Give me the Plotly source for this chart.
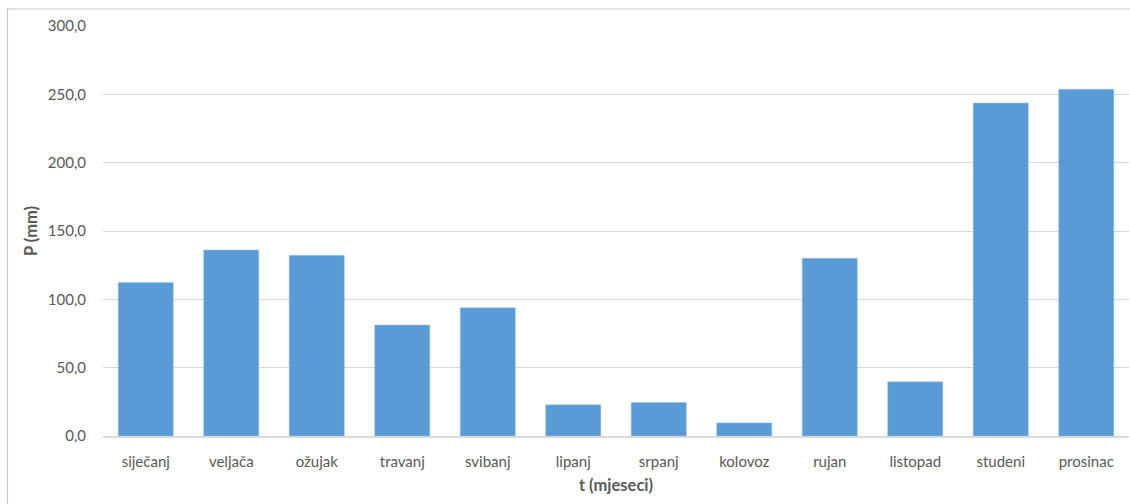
import plotly.graph_objects as go

months = ["siječanj", "veljača", "ožujak", "travanj", "svibanj", "lipanj",
          "srpanj", "kolovoz", "rujan", "listopad", "studeni", "prosinac"]
precip = [112.4, 136.1, 132.2, 81.2, 93.8, 22.8, 24.5, 9.6, 130.1, 39.7, 243.6, 253.7]
y_ticks = [0, 50, 100, 150, 200, 250, 300]

W, H = 1130, 504
ml, mr, mt, mb = 103, 1, 26, 68
pw, ph = W - ml - mr, H - mt - mb

font_family = "Lato, 'Open Sans', sans-serif"
txt = "#595959"

fig = go.Figure(go.Bar(
    x=months, y=precip,
    marker=dict(color="#5B9BD5", line=dict(color="#9DC3E6", width=0.5)),
))

fig.update_layout(
    width=W, height=H,
    margin=dict(l=ml, r=mr, t=mt, b=mb),
    paper_bgcolor="white", plot_bgcolor="white",
    separators=",.",
    bargap=0.355,
    showlegend=False,
    font=dict(family=font_family, size=15, color=txt),
    xaxis=dict(
        showgrid=False, showline=True, linecolor="#d9d9d9", linewidth=1.5,
        ticks="", ticklabelstandoff=11,
        tickfont=dict(size=15, color=txt),
        title=dict(text="<b>t (mjeseci)</b>", standoff=11, font=dict(size=16.5, color=txt)),
    ),
    yaxis=dict(
        range=[0, 300], tickvals=y_ticks, tickformat=".1f",
        showgrid=True, gridcolor="#d9d9d9", gridwidth=1,
        zeroline=False, showline=False, ticks="", ticklabelstandoff=16,
        tickfont=dict(size=15, color=txt),
        title=dict(text="<b>P (mm)</b>", standoff=6, font=dict(size=16.5, color=txt)),
    ),
)

# outer chart border (partially visible, top-left)
fig.add_shape(type="rect", xref="paper", yref="paper",
              x0=(7.5 - ml) / pw, x1=(W + 20 - ml) / pw,
              y0=-(H + 20 - mt - ph) / ph, y1=(H - 9 - mb) / ph,
              line=dict(color="#c8c8c8", width=1.2), layer="below")

fig.write_html("out.html", config={"displayModeBar": False},
               post_script="document.body.style.margin='0';")
